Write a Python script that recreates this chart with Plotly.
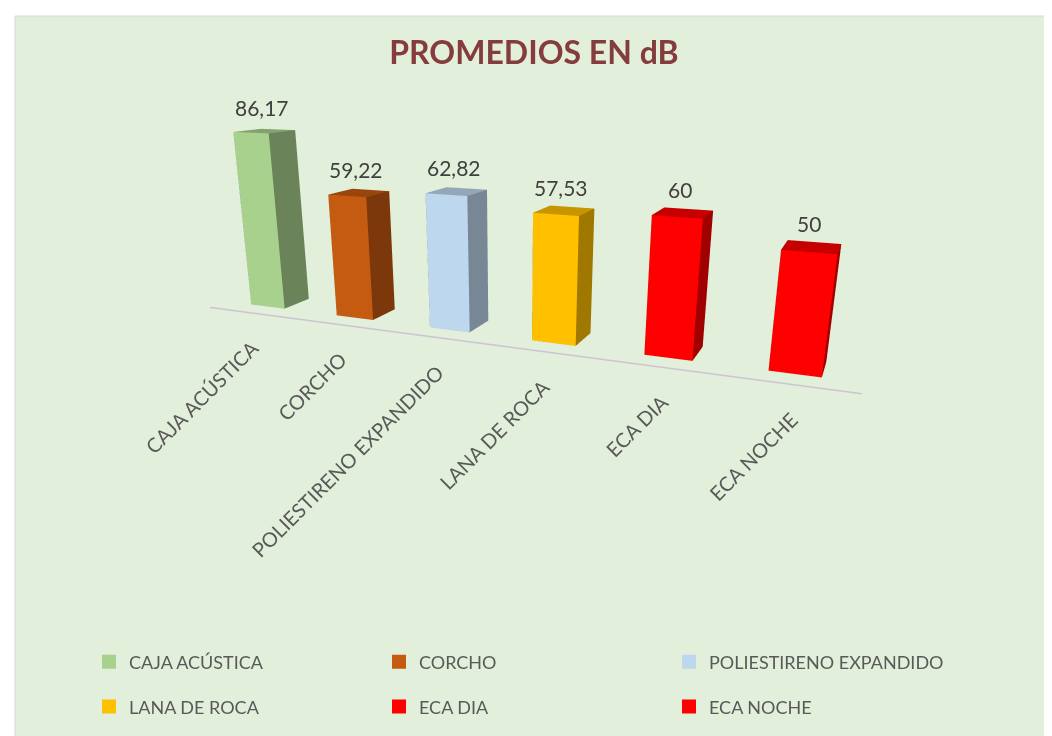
import math
import plotly.graph_objects as go

# Data
categorias = ["CAJA ACÚSTICA", "CORCHO", "POLIESTIRENO EXPANDIDO",
              "LANA DE ROCA", "ECA DIA", "ECA NOCHE"]
promedios = [86.17, 59.22, 62.82, 57.53, 60, 50]
colores = ["#A9D18E", "#C55A11", "#BDD7EE", "#FFC000", "#FF0000", "#FF0000"]

ANCHO = 0.4     # bar width (category units)
FONDO = 0.4     # bar depth
FRENTE = -0.45  # floor front edge (axis line)
ZMAX = 90

# camera (category units, dB) -> plotly normalised scene coords
S = 0.5                 # scene units per category unit
SZ = 0.0096             # scene units per dB
YAW, PITCH, DIST = 23, 20, 3.95
mira = (2.62, -FONDO / 2, -18.5)   # point seen at the centre of the view


def sombra(hex_color, f):
    r, g, b = (int(hex_color[k:k + 2], 16) for k in (1, 3, 5))
    return "rgb(%d,%d,%d)" % (r * f, g * f, b * f)


def fmt(v):
    return ("%g" % v).replace(".", ",")


n_cat = len(categorias)
cx = (mira[0] - (n_cat - 1) / 2) * S
cy = mira[1] * S
cz = (mira[2] - ZMAX / 2) * SZ
yaw, pitch = math.radians(YAW), math.radians(PITCH)
eye = dict(x=cx + DIST * math.sin(yaw) * math.cos(pitch),
           y=cy - DIST * math.cos(yaw) * math.cos(pitch),
           z=cz + DIST * math.sin(pitch))

fig = go.Figure()

# 3D bars as boxes
for n, (val, col) in enumerate(zip(promedios, colores)):
    x0, x1 = n - ANCHO / 2, n + ANCHO / 2
    y0, y1 = -FONDO / 2, FONDO / 2
    top, side = sombra(col, 0.78), sombra(col, 0.63)
    fig.add_trace(go.Mesh3d(
        x=[x0, x1, x1, x0, x0, x1, x1, x0],
        y=[y0, y0, y1, y1, y0, y0, y1, y1],
        z=[0, 0, 0, 0, val, val, val, val],
        i=[0, 0, 4, 4, 0, 0, 3, 3, 0, 0, 1, 1],
        j=[1, 2, 5, 6, 1, 5, 2, 6, 3, 7, 2, 6],
        k=[2, 3, 6, 7, 5, 4, 6, 7, 7, 4, 6, 5],
        facecolor=[side] * 2 + [top] * 2 + [col] * 2 + [side] * 6,
        flatshading=True,
        lighting=dict(ambient=1, diffuse=0, specular=0, fresnel=0, roughness=1),
        hoverinfo="skip", showlegend=False,
    ))

# floor / category axis line
fig.add_trace(go.Scatter3d(
    x=[-0.5, n_cat - 0.5], y=[FRENTE, FRENTE], z=[0, 0],
    mode="lines", line=dict(color="#CCC4D2", width=3),
    hoverinfo="skip", showlegend=False,
))

# legend entries (two rows, three columns)
for n, (cat, col) in enumerate(zip(categorias, colores)):
    fig.add_trace(go.Scatter(
        x=[None], y=[None], mode="markers", name=cat,
        marker=dict(symbol="square", size=14, color=col),
        legend="legend" if n < 3 else "legend2",
    ))

etiquetas = [dict(x=n, y=0, z=v, text=fmt(v), showarrow=False,
                  yanchor="bottom", yshift=9, xshift=-3,
                  font=dict(family="Lato", size=21, color="#404040"))
             for n, v in enumerate(promedios)]
etiquetas += [dict(x=n, y=FRENTE, z=0, text=c, showarrow=False,
                   textangle=-45, xanchor="right", yanchor="top",
                   xshift=14, yshift=-20,
                   font=dict(family="Lato", size=20, color="#595959"))
              for n, c in enumerate(categorias)]

ley = dict(orientation="h", xanchor="left", yanchor="middle", x=0.077,
           entrywidth=245, entrywidthmode="pixels", itemwidth=30,
           bgcolor="rgba(0,0,0,0)",
           font=dict(family="Lato", size=18, color="#595959"))

fig.update_layout(
    width=1052, height=736,
    margin=dict(l=0, r=0, t=0, b=0),
    paper_bgcolor="white", plot_bgcolor="rgba(0,0,0,0)",
    xaxis=dict(visible=False), yaxis=dict(visible=False),
    title=dict(text="<b>PROMEDIOS EN dB</b>", x=0.5, y=0.9385,
               xanchor="center", yanchor="middle",
               font=dict(family="Lato", size=32, color="#843C3C")),
    legend=dict(ley, y=0.1113),
    legend2=dict(ley, y=0.0505),
    shapes=[dict(type="rect", xref="paper", yref="paper", layer="below",
                 x0=7 / 1052, x1=1.02, y0=-0.02, y1=1 - 8 / 736,
                 fillcolor="#E2EFDA", line=dict(color="#D9D9D9", width=1))],
    scene=dict(
        domain=dict(x=[0, 0.96], y=[0, 1]),
        xaxis=dict(range=[-0.5, n_cat - 0.5], visible=False),
        yaxis=dict(range=[-0.5, 0.5], visible=False),
        zaxis=dict(range=[0, ZMAX], visible=False),
        aspectmode="manual",
        aspectratio=dict(x=n_cat * S, y=1.0 * S, z=ZMAX * SZ),
        bgcolor="rgba(0,0,0,0)",
        camera=dict(eye=eye, center=dict(x=cx, y=cy, z=cz),
                    up=dict(x=0, y=0, z=1),
                    projection=dict(type="perspective")),
        annotations=etiquetas,
    ),
)

fig.write_html("out.html")
